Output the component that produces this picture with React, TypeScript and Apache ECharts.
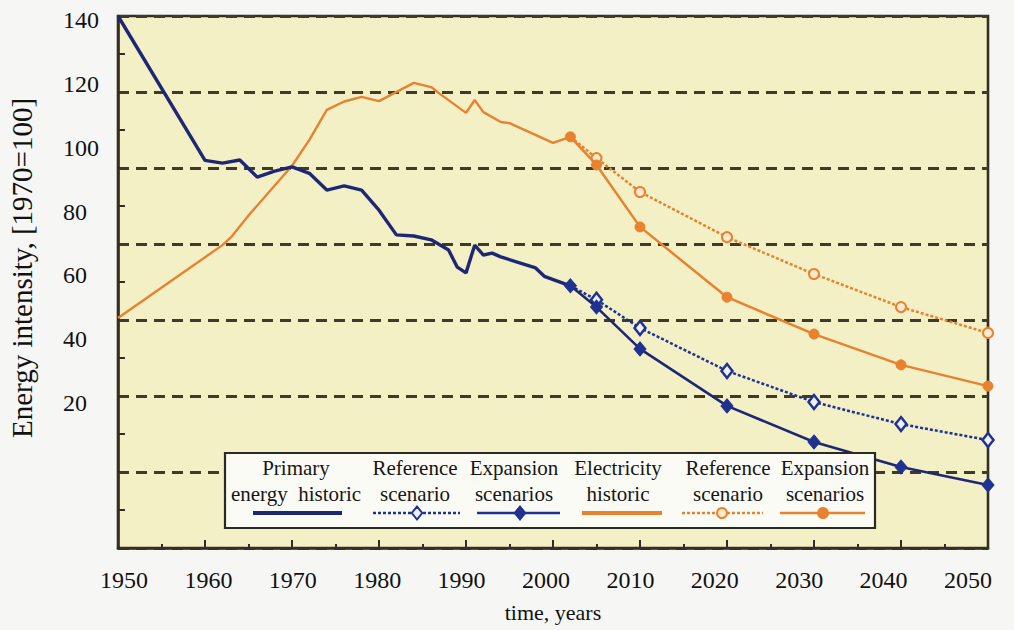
import React, { useEffect, useRef } from "react";
import * as echarts from "echarts";

// ---- data (value scale: 1970 = 100) ----
const primaryYears = [1950, 1960, 1962, 1964, 1966, 1968, 1970, 1972, 1974, 1976, 1978, 1980, 1982, 1984, 1986, 1988, 1989, 1990, 1991, 1992, 1993, 1994, 1998, 1999, 2002];
const primaryValues = [140, 102, 101.3, 102.1, 97.6, 99.2, 100.3, 98.6, 94.2, 95.3, 94.2, 88.9, 82.4, 82.1, 81.1, 78.4, 73.9, 72.4, 79.7, 77.1, 77.6, 76.6, 73.7, 71.5, 69];

const elecYears = [1950, 1962, 1963, 1965, 1970, 1972, 1974, 1976, 1978, 1980, 1984, 1986, 1987, 1990, 1991, 1992, 1994, 1995, 2000, 2002];
const elecValues = [60.5, 79.7, 81.8, 87.5, 100.6, 107.4, 115.3, 117.5, 118.7, 117.6, 122.4, 121.3, 119.5, 114.5, 117.9, 114.7, 112.1, 111.8, 106.6, 108.2];

const scenarioYears = [2002, 2005, 2010, 2020, 2030, 2040, 2050];
const primaryRef = [69, 65.3, 57.9, 46.6, 38.4, 32.6, 28.4];
const primaryExp = [69, 63.4, 52.4, 37.4, 27.9, 21.3, 16.6];
const elecRef = [108.2, 102.6, 93.7, 81.8, 72.1, 63.4, 56.6];
const elecExp = [108.2, 100.8, 84.5, 66, 56.3, 48.2, 42.6];

const yTickLabels = [20, 40, 60, 80, 100, 120, 140];
const xTickLabels = [1950, 1960, 1970, 1980, 1990, 2000, 2010, 2020, 2030, 2040, 2050];

const legendLabels = [
  "Primary\nenergy  historic",
  "Reference\nscenario",
  "Expansion\nscenarios",
  "Electricity\nhistoric",
  "Reference\nscenario",
  "Expansion\nscenarios",
];

const yTitle = "Energy intensity, [1970=100]";
const xTitle = "time, years";

// ---- styles ----
const BLUE = "#1e2774";
const BLUE_M = "#1f3290";
const ORANGE = "#e8822e";
const FRAME = "#342f22";
const GRID = "#3f3b28";
const FONT = "'Liberation Serif', 'Times New Roman', Times, serif";

const pairs = (xs: number[], ys: number[]) => xs.map((x, i) => [x, ys[i]]);

export default function App() {
  const ref = useRef<HTMLDivElement>(null);

  useEffect(() => {
    if (!ref.current) return;
    const chart = echarts.init(ref.current, null, { renderer: "svg" });

    const refData = (ys: number[]) =>
      scenarioYears.map((x, i) => (i === 0 ? { value: [x, ys[i]], symbol: "none" } : [x, ys[i]]));

    // legend layout
    const textX = [296, 415, 514, 618, 728, 825];
    const sampleX = [[253, 342], [373, 460], [477, 560], [582, 662], [682, 763], [780, 865]];
    const sampleColor = [BLUE, BLUE_M, BLUE_M, ORANGE, ORANGE, ORANGE];
    const sampleDash: any[] = [null, [3, 2], null, null, [3, 2], null];
    const sampleWidth = [4, 2.5, 2.5, 4, 2.5, 2.5];
    const markerX = [null, 417, 520, null, 722, 823];
    const legendY = 513;

    const legendEls: any[] = [
      {
        type: "rect",
        shape: { x: 225, y: 453, width: 650, height: 75 },
        style: { fill: "#fbfbf5", stroke: "#2b2a22", lineWidth: 2.2 },
        z: 100,
      },
    ];
    legendLabels.forEach((lab, i) => {
      legendEls.push({
        type: "text",
        x: textX[i],
        y: 481,
        z: 101,
        style: {
          text: lab,
          fill: "#161616",
          fontSize: 21,
          fontFamily: FONT,
          align: "center",
          verticalAlign: "middle",
          lineHeight: 26,
        },
      });
      legendEls.push({
        type: "line",
        z: 101,
        shape: { x1: sampleX[i][0], y1: legendY, x2: sampleX[i][1], y2: legendY },
        style: { stroke: sampleColor[i], lineWidth: sampleWidth[i], lineDash: sampleDash[i] },
      });
      const mx = markerX[i];
      if (mx !== null) {
        const hollow = i === 1 || i === 4;
        const fill = hollow ? (i === 1 ? "#eef0fb" : "#f8ead0") : sampleColor[i];
        if (i < 3) {
          const r = 6.5;
          legendEls.push({
            type: "polygon",
            z: 102,
            shape: { points: [[mx, legendY - r], [mx + r * 0.8, legendY], [mx, legendY + r], [mx - r * 0.8, legendY]] },
            style: { fill, stroke: sampleColor[i], lineWidth: 2 },
          });
        } else {
          legendEls.push({
            type: "circle",
            z: 102,
            shape: { cx: mx, cy: legendY, r: 5 },
            style: { fill, stroke: sampleColor[i], lineWidth: 2 },
          });
        }
      }
    });

    const option: any = {
      animation: false,
      backgroundColor: "#f6f6f4",
      textStyle: { fontFamily: FONT },
      grid: [
        {
          left: 118,
          top: 16,
          width: 870,
          height: 532,
          show: true,
          backgroundColor: "#f3f0c6",
          borderColor: FRAME,
          borderWidth: 2.6,
        },
        { left: 116, top: 20, width: 872, height: 383, show: false },
        { left: 124, top: 16, width: 844, height: 532, show: false },
      ],
      xAxis: [
        {
          gridIndex: 0,
          type: "value",
          min: 1950,
          max: 2050,
          interval: 10,
          axisLine: { show: true, lineStyle: { color: FRAME, width: 2.6 } },
          axisTick: { show: true, inside: true, length: 8, lineStyle: { color: FRAME, width: 2 } },
          minorTick: { show: true, splitNumber: 2, length: 4, lineStyle: { color: FRAME, width: 2 } },
          axisLabel: { show: false },
          splitLine: { show: false },
        },
        { gridIndex: 1, type: "value", show: false },
        {
          gridIndex: 2,
          type: "value",
          min: 1950,
          max: 2050,
          interval: 10,
          axisLine: { show: false },
          axisTick: { show: false },
          splitLine: { show: false },
          axisLabel: {
            margin: 20,
            fontSize: 24,
            fontFamily: FONT,
            color: "#111",
            customValues: xTickLabels,
            formatter: (v: number) => String(v),
          },
        },
      ],
      yAxis: [
        {
          gridIndex: 0,
          type: "value",
          min: 0,
          max: 140,
          interval: 20,
          axisLine: { show: true, lineStyle: { color: FRAME, width: 2.6 } },
          axisTick: { show: false, inside: true },
          minorTick: { show: true, splitNumber: 2, length: 7, lineStyle: { color: FRAME, width: 2 } },
          axisLabel: { show: false },
          splitLine: { show: true, lineStyle: { color: GRID, width: 3, type: [11, 7] } },
        },
        {
          gridIndex: 1,
          type: "value",
          min: 20,
          max: 140,
          interval: 20,
          axisLine: { show: false },
          axisTick: { show: false },
          splitLine: { show: false },
          axisLabel: {
            align: "left",
            margin: 53,
            fontSize: 24,
            fontFamily: FONT,
            color: "#111",
            customValues: yTickLabels,
            formatter: (v: number) => String(v),
          },
        },
        { gridIndex: 2, type: "value", show: false },
      ],
      series: [
        {
          type: "line",
          xAxisIndex: 0,
          yAxisIndex: 0,
          data: pairs(primaryYears, primaryValues),
          symbol: "none",
          lineStyle: { color: BLUE, width: 3.4 },
          z: 5,
        },
        {
          type: "line",
          xAxisIndex: 0,
          yAxisIndex: 0,
          data: pairs(elecYears, elecValues),
          symbol: "none",
          lineStyle: { color: ORANGE, width: 2.4 },
          z: 4,
        },
        {
          type: "line",
          xAxisIndex: 0,
          yAxisIndex: 0,
          data: refData(primaryRef),
          symbol: "diamond",
          symbolSize: [11, 14],
          lineStyle: { color: BLUE_M, width: 2.5, type: [3, 2] },
          itemStyle: { color: "#eef0fb", borderColor: BLUE_M, borderWidth: 2.5 },
          z: 6,
        },
        {
          type: "line",
          xAxisIndex: 0,
          yAxisIndex: 0,
          data: pairs(scenarioYears, primaryExp),
          symbol: "diamond",
          symbolSize: [12, 14],
          lineStyle: { color: BLUE, width: 2.6 },
          itemStyle: { color: BLUE_M, borderColor: BLUE_M, borderWidth: 1 },
          z: 7,
        },
        {
          type: "line",
          xAxisIndex: 0,
          yAxisIndex: 0,
          data: refData(elecRef),
          symbol: "circle",
          symbolSize: 10,
          lineStyle: { color: ORANGE, width: 2.5, type: [3, 2] },
          itemStyle: { color: "#f8ead0", borderColor: ORANGE, borderWidth: 2 },
          z: 6,
        },
        {
          type: "line",
          xAxisIndex: 0,
          yAxisIndex: 0,
          data: pairs(scenarioYears, elecExp),
          symbol: "circle",
          symbolSize: 10,
          lineStyle: { color: ORANGE, width: 2.5 },
          itemStyle: { color: ORANGE, borderColor: ORANGE, borderWidth: 1 },
          z: 7,
        },
      ],
      graphic: [
        {
          type: "text",
          x: 22,
          y: 268,
          rotation: Math.PI / 2,
          style: {
            text: yTitle,
            fill: "#111",
            fontSize: 29,
            fontFamily: FONT,
            align: "center",
            verticalAlign: "middle",
          },
        },
        {
          type: "text",
          x: 553,
          y: 612,
          style: {
            text: xTitle,
            fill: "#111",
            fontSize: 22,
            fontFamily: FONT,
            align: "center",
            verticalAlign: "middle",
          },
        },
        ...legendEls,
      ],
    };

    chart.setOption(option);
    return () => chart.dispose();
  }, []);

  return (
    <div
      ref={ref}
      style={{ position: "absolute", left: 0, top: 0, width: 1014, height: 630 }}
    />
  );
}
